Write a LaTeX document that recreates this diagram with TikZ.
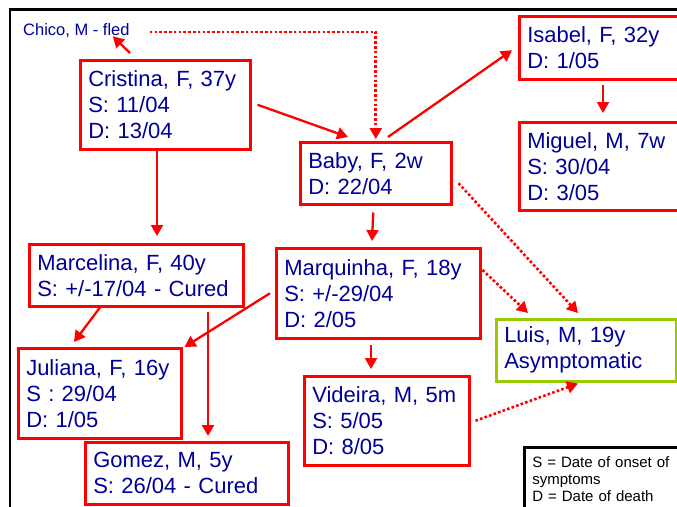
\documentclass[tikz,border=0pt]{standalone}
\usepackage{fontspec}
\setmainfont{Liberation Sans}
\usetikzlibrary{arrows.meta}
\definecolor{txtblue}{RGB}{0,0,153}
\definecolor{boxred}{RGB}{255,0,0}
\definecolor{boxgreen}{RGB}{153,204,0}
\tikzset{
  pbox/.style={draw=boxred, line width=2.5pt, anchor=north west, align=left,
    inner xsep=8pt, inner ysep=0pt, text=txtblue,
    font=\fontsize{22pt}{26pt}\selectfont},
  arr/.style={draw=boxred, line width=2.3pt,
    -{Triangle[length=11pt,width=12pt]}},
  dotarr/.style={draw=boxred, line width=2.6pt, dash pattern=on 2.6pt off 2.2pt,
    -{Triangle[length=11pt,width=12pt]}},
}
\begin{document}
\begin{tikzpicture}[x=1pt,y=-1pt]
\clip (0,0) rectangle (677,506);
\fill[white] (0,0) rectangle (677,506);
% frame
\draw[line width=2.5pt, black] (10,520) -- (10,9.5) -- (690,9.5);

% nodes
\node[anchor=base west, inner sep=0pt, text=txtblue,
  font=\fontsize{16.5pt}{19pt}\selectfont] (chico) at (23,35) {Chico, M - fled};
\node[pbox, text width=154pt, minimum height=89pt] (cristina) at (79,59)
  {Cristina, F, 37y\\S: 11/04\\D: 13/04};
\node[pbox, text width=135pt, minimum height=62pt] (baby) at (299,141)
  {Baby, F, 2w\\D: 22/04};
\node[pbox, text width=184pt, minimum height=63pt] (isabel) at (518,15)
  {Isabel, F, 32y\\D: 1/05};
\node[pbox, text width=184pt, minimum height=88pt] (miguel) at (518,121)
  {Miguel, M, 7w\\S: 30/04\\D: 3/05};
\node[pbox, text width=198pt, minimum height=62pt] (marcelina) at (28,243)
  {Marcelina, F, 40y\\S: +/-17/04 - Cured};
\node[pbox, text width=188pt, minimum height=90pt] (marquinha) at (275,247)
  {Marquinha, F, 18y\\S: +/-29/04\\D: 2/05};
\node[pbox, text width=147pt, minimum height=90pt] (juliana) at (17,347)
  {Juliana, F, 16y\\S : 29/04\\D: 1/05};
\node[pbox, text width=187pt, minimum height=62pt] (gomez) at (84,441)
  {Gomez, M, 5y\\S: 26/04 - Cured};
\node[pbox, text width=149pt, minimum height=89pt] (videira) at (303,375)
  {Videira, M, 5m\\S: 5/05\\D: 8/05};
\node[pbox, draw=boxgreen, text width=164pt, minimum height=62pt] (luis) at (495,318)
  {Luis, M, 19y\\Asymptomatic};
\node[draw=black, line width=2.5pt, anchor=north west, align=left,
  inner xsep=8pt, inner ysep=9pt, text width=190pt,
  font=\fontsize{15pt}{17pt}\selectfont] (legend) at (523,446)
  {S = Date of onset of\\symptoms\\D = Date of death};

% connectors
\draw[arr] ([shift={(51pt,6pt)}]cristina.north west) -- ([shift={(-17pt,1pt)}]chico.south east);
\draw[dotarr] ([shift={(20pt,3pt)}]chico.base east) -| ([yshift=2pt]baby.north);
\draw[arr] ([xshift=6pt]cristina.east) -- ([shift={(49pt,4pt)}]baby.north west);
\draw[arr] ([shift={(89pt,4pt)}]baby.north west) -- ([shift={(-6pt,-2.5pt)}]isabel.west);
\draw[arr] ([shift={(85pt,-4pt)}]isabel.south west) -- ([shift={(85pt,8pt)}]miguel.north west);
\draw[arr] ([shift={(-2.5pt,-7pt)}]baby.south) -- ([shift={(97pt,6pt)}]marquinha.north west);
\draw[arr] ([xshift=78pt]cristina.south west) -- ([shift={(129pt,7pt)}]marcelina.north west);
\draw[arr] ([xshift=72pt]marcelina.south west) -- ([shift={(57pt,5pt)}]juliana.north west);
\draw[arr] ([xshift=-5pt]marquinha.west) -- ([xshift=2pt]juliana.north east);
\draw[arr] ([shift={(180pt,-4pt)}]marcelina.south west) -- ([shift={(124pt,5pt)}]gomez.north west);
\draw[arr] ([shift={(96pt,-5pt)}]marquinha.south west) -- ([shift={(68pt,6pt)}]videira.north west);
\draw[dotarr] ([shift={(6pt,-10pt)}]baby.east) -- ([shift={(83pt,5pt)}]luis.north west);
\draw[dotarr] ([shift={(1pt,-23pt)}]marquinha.north east) -- ([shift={(33pt,5pt)}]luis.north west);
\draw[dotarr] ([xshift=5pt]videira.east) -- ([shift={(83pt,-1pt)}]luis.south west);
\end{tikzpicture}
\end{document}
